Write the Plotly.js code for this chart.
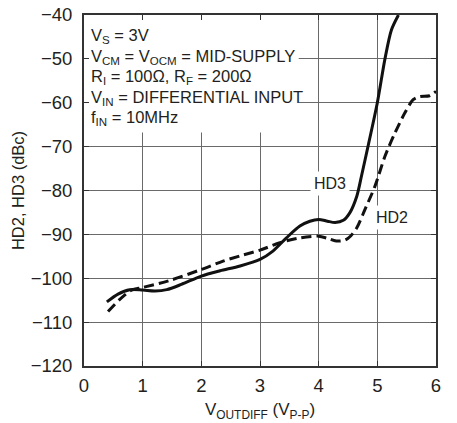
<!DOCTYPE html>
<html>
<head>
<meta charset="utf-8">
<script src="https://cdn.plot.ly/plotly-3.0.1.min.js"></script>
<style>html,body{margin:0;padding:0;background:#fff;}#chart{width:457px;height:423px;}</style>
</head>
<body>
<div id="chart"></div>
<script>
// HD3 (solid) — VOUTDIFF (Vp-p) vs dBc
const hd3X = [0.39, 0.58, 0.78, 1.0, 1.21, 1.41, 1.66, 2.0, 2.32, 2.66, 3.0, 3.22, 3.45, 3.68, 3.85, 4.0, 4.15, 4.28, 4.42, 4.53, 4.65, 4.73, 4.84, 5.0, 5.13, 5.24, 5.36];
const hd3Y = [-105.4, -103.6, -102.6, -102.7, -102.9, -102.6, -101.4, -99.5, -98.3, -97.2, -95.7, -93.8, -90.8, -88.1, -87.0, -86.6, -87.0, -87.3, -86.8, -85.1, -81.3, -76.7, -70.0, -60.0, -50.0, -43.4, -40.0];
// HD2 (dashed)
const hd2X = [0.41, 0.61, 0.81, 1.0, 1.44, 2.0, 2.37, 2.66, 3.0, 3.34, 3.68, 4.0, 4.15, 4.3, 4.45, 4.55, 4.65, 4.79, 4.96, 5.13, 5.3, 5.47, 5.61, 5.72, 5.89, 6.0];
const hd2Y = [-107.6, -104.8, -102.7, -102.1, -100.6, -98.0, -96.1, -94.9, -93.6, -91.9, -90.8, -90.4, -90.9, -91.5, -91.3, -90.3, -88.5, -84.3, -79.0, -72.2, -66.9, -62.3, -59.3, -58.6, -58.4, -57.4];

const xTicks = [0, 1, 2, 3, 4, 5, 6];
const yTicks = [-120, -110, -100, -90, -80, -70, -60, -50, -40];
const noteLines = [
  'V<sub>S</sub> = 3V',
  'V<sub>CM</sub> = V<sub>OCM</sub> = MID-SUPPLY',
  'R<sub>I</sub> = 100Ω, R<sub>F</sub> = 200Ω',
  'V<sub>IN</sub> = DIFFERENTIAL INPUT',
  'f<sub>IN</sub> = 10MHz'
];
const seriesLabels = ['HD3', 'HD2'];

const FONT = '"Liberation Sans", Arial, sans-serif';
const TXT = '#231f20';

const traces = [
  {x: hd3X, y: hd3Y, mode: 'lines', line: {color: '#111', width: 3, shape: 'spline', smoothing: 0.8}, hoverinfo: 'skip'},
  {x: hd2X, y: hd2Y, mode: 'lines', line: {color: '#111', width: 3, dash: '10px,5px', shape: 'spline', smoothing: 0.8}, hoverinfo: 'skip'}
];

const annotations = noteLines.map((t, i) => ({
  text: t, xref: 'paper', yref: 'paper', x: 0.018, y: 0.94 - i * 0.0585,
  xanchor: 'left', yanchor: 'middle', showarrow: false, align: 'left',
  font: {family: FONT, size: 16.5, color: TXT}, borderpad: 0
}));
annotations.push({text: seriesLabels[0], x: 4.19, y: -78.3, xref: 'x', yref: 'y', showarrow: false,
  font: {family: FONT, size: 16, color: TXT}, bgcolor: '#fff', borderpad: 3});
annotations.push({text: seriesLabels[1], x: 5.25, y: -86.1, xref: 'x', yref: 'y', showarrow: false,
  font: {family: FONT, size: 16, color: TXT}, bgcolor: '#fff', borderpad: 3});

const axisCommon = {
  showgrid: true, gridcolor: '#6a6a6a', gridwidth: 1,
  showline: true, linecolor: '#333', linewidth: 2, mirror: 'ticks',
  ticks: 'inside', ticklen: 5, tickcolor: '#333', tickwidth: 1,
  zeroline: false, fixedrange: true,
  tickfont: {family: FONT, size: 18.5, color: TXT}
};

const layout = {
  width: 457, height: 423,
  margin: {l: 84, r: 21, t: 15, b: 57},
  paper_bgcolor: '#fff', plot_bgcolor: '#fff',
  showlegend: false,
  xaxis: Object.assign({}, axisCommon, {
    range: [0, 6], tickvals: xTicks, ticktext: xTicks.map(String), ticklabelstandoff: 2,
    title: {text: 'V<sub>OUTDIFF</sub> (V<sub>P-P</sub>)', font: {family: FONT, size: 17, color: TXT}, standoff: 8}
  }),
  yaxis: Object.assign({}, axisCommon, {
    range: [-120, -40], tickvals: yTicks, ticklabelstandoff: 6,
    title: {text: 'HD2, HD3 (dBc)', font: {family: FONT, size: 16.5, color: TXT}, standoff: 2}
  }),
  shapes: [
    {type: 'rect', xref: 'x', yref: 'y', x0: 0, x1: 3.66, y0: -66.8, y1: -40,
     fillcolor: '#fff', line: {width: 0}, layer: 'between'}
  ],
  annotations: annotations
};

Plotly.newPlot('chart', traces, layout, {staticPlot: true, displayModeBar: false});
</script>
</body>
</html>
